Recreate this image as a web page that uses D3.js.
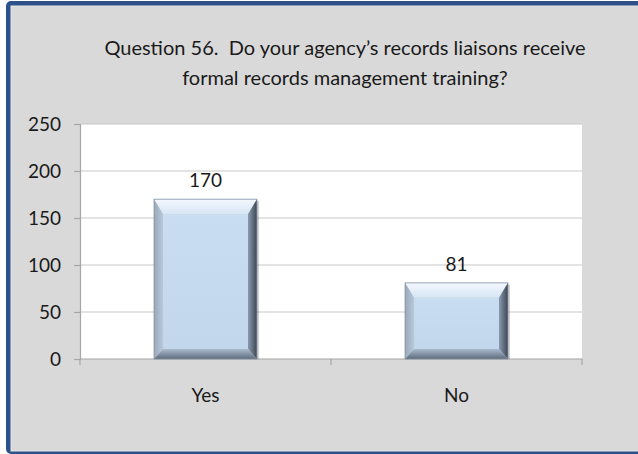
<!DOCTYPE html>
<html><head><meta charset="utf-8">
<script src="https://cdn.jsdelivr.net/npm/d3@7"></script>
<style>html,body{margin:0;padding:0;background:#fff;}svg{display:block;}.pre{white-space:pre;}</style>
</head><body>
<script>
const categories = ["Yes", "No"];
const values = [170, 81];
const yTicks = [0, 50, 100, 150, 200, 250];
const titleLines = ["Question 56.  Do your agency\u2019s records liaisons receive", "formal records management training?"];

const W = 638, H = 454;
const svg = d3.select("body").append("svg").attr("width", W).attr("height", H);
const defs = svg.append("defs");

// frame
svg.append("rect").attr("x", 0).attr("y", 0).attr("width", W).attr("height", H).attr("fill", "#ffffff");
svg.append("rect").attr("x", 6).attr("y", 1).attr("width", W + 20).attr("height", 453).attr("rx", 5)
  .attr("fill", "#2d5189");
svg.append("rect").attr("x", 11).attr("y", 6).attr("width", W + 20).attr("height", 445)
  .attr("fill", "#d9d9d9").attr("stroke", "#e6e6e6").attr("stroke-width", 1);

const font = "Lato, 'Open Sans', sans-serif";
svg.append("g").selectAll("text").data(titleLines).join("text")
  .attr("class", "pre")
  .attr("x", 345).attr("y", (d, i) => 55 + i * 30)
  .attr("text-anchor", "middle").attr("font-family", font).attr("font-size", 20)
  .attr("fill", "#1a1a1a").text(d => d);

const m = {l: 80, r: 582, t: 124, b: 359};
const x = d3.scaleBand().domain(categories).range([m.l, m.r]).paddingInner(0.59).paddingOuter(0.295);
const y = d3.scaleLinear().domain([0, 250]).range([m.b, m.t]);

svg.append("rect").attr("x", m.l).attr("y", m.t).attr("width", m.r - m.l).attr("height", m.b - m.t).attr("fill", "#ffffff");

// gridlines
svg.append("g").selectAll("line").data(yTicks.filter(d => d > 0)).join("line")
  .attr("x1", m.l).attr("x2", m.r).attr("y1", d => y(d)).attr("y2", d => y(d))
  .attr("stroke", "#c8c8c8").attr("stroke-width", 1.2);

// y axis
const yAxis = d3.axisLeft(y).tickValues(yTicks).tickSize(6).tickPadding(13);
const gy = svg.append("g").attr("transform", `translate(${m.l},0)`).call(yAxis);
gy.attr("font-size", null).attr("font-family", null);
gy.select(".domain").attr("stroke", "#a6a6a6").attr("stroke-width", 1.2);
gy.selectAll(".tick line").attr("stroke", "#a6a6a6").attr("stroke-width", 1.2);
gy.selectAll(".tick text").attr("font-family", font).attr("font-size", 19).attr("fill", "#1a1a1a");

// x axis
const xAxis = d3.axisBottom(x).tickSize(0).tickPadding(30);
const gx = svg.append("g").attr("transform", `translate(0,${m.b})`).call(xAxis);
gx.attr("font-size", null).attr("font-family", null);
gx.select(".domain").attr("stroke", "#a6a6a6").attr("stroke-width", 1.2).attr("d", `M${m.l},0H${m.r}`);
gx.selectAll(".tick text").attr("font-family", font).attr("font-size", 19).attr("fill", "#1a1a1a");
const bounds = [m.l, (x("Yes") + x.bandwidth() + x("No")) / 2, m.r];
svg.append("g").selectAll("line").data(bounds).join("line")
  .attr("x1", d => d).attr("x2", d => d).attr("y1", m.b).attr("y2", m.b + 6)
  .attr("stroke", "#a6a6a6").attr("stroke-width", 1.2);

// gradients
function lg(id, x1, y1, x2, y2, stops) {
  const g = defs.append("linearGradient").attr("id", id).attr("x1", x1).attr("y1", y1).attr("x2", x2).attr("y2", y2);
  stops.forEach(s => g.append("stop").attr("offset", s[0]).attr("stop-color", s[1]));
}
lg("gTop", 0, 0, 0, 1, [[0, "#f4f8fd"], [1, "#d6e5f5"]]);
lg("gFace", 0, 0, 0, 1, [[0, "#c8dcf2"], [1, "#c2d6ec"]]);
lg("gLeft", 0, 0, 1, 0, [[0, "#9aa8b8"], [1, "#b8c9dc"]]);
lg("gRight", 0, 0, 1, 0, [[0, "#8a9bb0"], [1, "#3c4652"]]);
lg("gBot", 0, 0, 0, 1, [[0, "#a9bacd"], [1, "#5f6d7d"]]);

// bars with bevel
const bars = svg.append("g").selectAll("g").data(categories.map((c, i) => ({c, v: values[i]}))).join("g");
bars.each(function(d) {
  const g = d3.select(this);
  const x0 = x(d.c), x1 = x0 + x.bandwidth(), y0 = y(d.v), y1 = y(0);
  const bl = 9, br = 9, bt = 15, bb = 10;
  g.append("rect").attr("x", x0 + 2).attr("y", y0 + 2).attr("width", x1 - x0).attr("height", y1 - y0 - 2)
    .attr("fill", "#000").attr("opacity", 0.18);
  const poly = pts => g.append("polygon").attr("points", pts.map(p => p.join(",")).join(" "));
  poly([[x0, y0], [x1, y0], [x1 - br, y0 + bt], [x0 + bl, y0 + bt]]).attr("fill", "url(#gTop)");
  poly([[x0, y0], [x0 + bl, y0 + bt], [x0 + bl, y1 - bb], [x0, y1]]).attr("fill", "url(#gLeft)");
  poly([[x1, y0], [x1, y1], [x1 - br, y1 - bb], [x1 - br, y0 + bt]]).attr("fill", "url(#gRight)");
  poly([[x0, y1], [x0 + bl, y1 - bb], [x1 - br, y1 - bb], [x1, y1]]).attr("fill", "url(#gBot)");
  g.append("rect").attr("x", x0 + bl).attr("y", y0 + bt).attr("width", x1 - x0 - bl - br)
    .attr("height", Math.max(0, y1 - y0 - bt - bb)).attr("fill", "url(#gFace)");
  g.append("rect").attr("x", x0).attr("y", y0).attr("width", x1 - x0).attr("height", y1 - y0)
    .attr("fill", "none").attr("stroke", "#7f8fa3").attr("stroke-width", 0.8);
});

// value labels
svg.append("g").selectAll("text").data(values).join("text")
  .attr("x", (d, i) => x(categories[i]) + x.bandwidth() / 2)
  .attr("y", d => y(d) - 12)
  .attr("text-anchor", "middle").attr("font-family", font).attr("font-size", 19).attr("fill", "#1a1a1a")
  .text(d => d);
</script>
</body></html>
